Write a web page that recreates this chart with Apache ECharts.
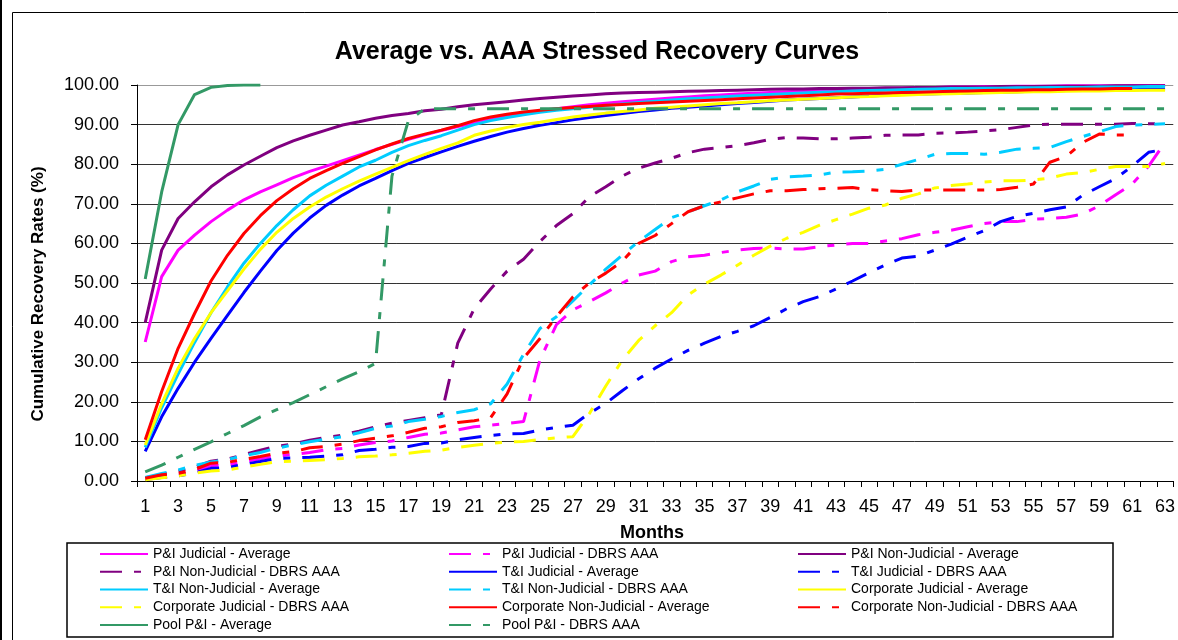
<!DOCTYPE html>
<html>
<head>
<meta charset="utf-8">
<title>Average vs. AAA Stressed Recovery Curves</title>
<script src="https://cdn.jsdelivr.net/npm/echarts@6/dist/echarts.min.js"></script>
<style>
  html, body { margin: 0; padding: 0; background: #fff; }
  #chart { width: 1178px; height: 640px; }
</style>
</head>
<body>
<div id="chart"></div>
<script>
// months on the x axis
const months = [1, 2, 3, 4, 5, 6, 7, 8, 9, 10, 11, 12, 13, 14, 15, 16, 17, 18, 19, 20,
  21, 22, 23, 24, 25, 26, 27, 28, 29, 30, 31, 32, 33, 34, 35, 36, 37, 38, 39, 40,
  41, 42, 43, 44, 45, 46, 47, 48, 49, 50, 51, 52, 53, 54, 55, 56, 57, 58, 59, 60,
  61, 62, 63];

// cumulative recovery rates (%)
const pijAvg = [35.1, 51.6, 58.3, 62.1, 65.5, 68.4, 71.0, 73.0, 74.8, 76.6, 78.2, 79.5, 80.9, 82.3, 83.7, 85.0, 86.3, 87.4, 88.5, 89.5,
  90.4, 91.3, 92.1, 92.8, 93.4, 94.0, 94.5, 95.0, 95.4, 95.8, 96.1, 96.4, 96.7, 97.0, 97.3, 97.5, 97.7, 97.9, 98.1, 98.3,
  98.5, 98.6, 98.8, 98.9, 99.0, 99.1, 99.2, 99.3, 99.4, 99.5, 99.5, 99.6, 99.6, 99.7, 99.7, 99.7, 99.8, 99.8, 99.8, 99.8,
  99.9, 99.9, 99.9];
const pijDbrs = [0.5, 1.1, 1.6, 2.4, 3.9, 4.0, 4.9, 5.6, 6.3, 6.7, 7.2, 7.9, 8.2, 9.1, 9.7, 10.1, 11.0, 11.8, 12.1, 12.9,
  13.7, 14.1, 14.5, 15.0, 30.6, 39.5, 43.2, 45.3, 47.5, 50.0, 52.0, 53.0, 55.4, 56.6, 57.0, 57.7, 58.3, 58.7, 58.8, 58.6,
  58.6, 59.2, 59.6, 60.0, 60.0, 60.6, 61.2, 62.2, 62.8, 63.3, 64.2, 65.0, 65.5, 65.5, 66.1, 66.3, 66.6, 67.4, 69.5, 72.3,
  75.0, 79.5, 85.5];
const pnjAvg = [40.0, 58.3, 66.3, 70.5, 74.3, 77.3, 79.8, 82.0, 84.2, 85.9, 87.3, 88.6, 89.9, 90.7, 91.6, 92.3, 92.8, 93.5, 93.9, 94.5,
  95.0, 95.4, 95.8, 96.2, 96.6, 96.9, 97.2, 97.5, 97.8, 98.0, 98.1, 98.2, 98.3, 98.4, 98.5, 98.6, 98.7, 98.8, 98.9, 99.0,
  99.0, 99.1, 99.1, 99.2, 99.2, 99.3, 99.3, 99.4, 99.4, 99.5, 99.5, 99.5, 99.6, 99.6, 99.6, 99.7, 99.7, 99.7, 99.7, 99.8,
  99.8, 99.8, 99.8];
const pnjDbrs = [0.8, 1.6, 2.5, 3.5, 5.0, 5.5, 6.7, 7.8, 8.8, 9.3, 10.3, 11.0, 11.6, 12.6, 13.7, 14.6, 15.3, 16.0, 16.7, 34.8,
  43.5, 48.5, 53.0, 56.0, 60.5, 64.5, 67.5, 71.8, 74.3, 77.0, 79.0, 80.3, 81.5, 82.9, 83.8, 84.2, 84.7, 85.4, 86.3, 86.7,
  86.6, 86.4, 86.4, 86.6, 86.8, 87.3, 87.4, 87.4, 87.8, 87.9, 88.1, 88.4, 88.7, 89.3, 89.9, 90.1, 90.1, 90.1, 90.1, 90.1,
  90.3, 90.2, 90.2];
const tjAvg = [7.5, 16.2, 23.4, 30.0, 36.0, 41.8, 47.6, 53.0, 58.2, 62.6, 66.4, 69.6, 72.2, 74.5, 76.4, 78.4, 80.2, 81.7, 83.1, 84.5,
  85.8, 87.0, 88.1, 89.0, 89.8, 90.5, 91.2, 91.8, 92.3, 92.8, 93.3, 93.7, 94.1, 94.4, 94.7, 95.0, 95.3, 95.6, 95.9, 96.2,
  96.4, 96.6, 96.8, 97.0, 97.2, 97.4, 97.6, 97.7, 97.8, 97.9, 98.0, 98.1, 98.2, 98.3, 98.4, 98.5, 98.6, 98.6, 98.7, 98.8,
  98.8, 98.9, 98.9];
const tjDbrs = [0.4, 0.9, 1.3, 2.0, 3.2, 3.4, 4.2, 4.9, 5.7, 5.8, 6.0, 6.3, 6.6, 7.7, 8.0, 8.5, 8.7, 9.5, 9.6, 10.4,
  11.0, 11.5, 11.9, 12.0, 12.9, 13.5, 14.1, 17.1, 19.6, 22.8, 25.8, 28.5, 30.8, 33.0, 34.8, 36.5, 37.8, 39.2, 41.3, 43.5,
  45.3, 46.6, 48.5, 50.5, 52.6, 54.6, 56.3, 56.8, 58.3, 59.8, 61.6, 63.2, 65.5, 66.8, 67.6, 68.5, 69.2, 72.2, 74.3, 76.4,
  79.5, 83.0, 83.8];
const tnjAvg = [8.5, 18.5, 27.0, 35.0, 42.5, 49.0, 55.0, 60.0, 64.5, 68.5, 72.0, 74.7, 77.0, 79.3, 81.0, 83.0, 84.7, 86.0, 87.2, 88.6,
  90.0, 91.0, 91.8, 92.5, 93.1, 93.6, 94.0, 94.4, 94.8, 95.2, 95.6, 95.9, 96.2, 96.5, 96.7, 97.0, 97.2, 97.4, 97.6, 97.8,
  98.0, 98.2, 98.3, 98.5, 98.6, 98.7, 98.8, 98.9, 99.0, 99.1, 99.1, 99.2, 99.2, 99.3, 99.3, 99.4, 99.4, 99.4, 99.5, 99.5,
  99.5, 99.6, 99.6];
const tnjDbrs = [0.9, 1.9, 2.8, 3.9, 4.8, 5.4, 6.4, 7.2, 8.3, 9.1, 9.9, 10.6, 11.2, 12.2, 13.3, 13.9, 15.0, 15.6, 16.3, 17.3,
  18.0, 19.5, 24.5, 32.0, 38.5, 41.5, 45.5, 49.5, 53.5, 57.0, 60.5, 63.5, 66.5, 68.0, 69.5, 71.0, 73.0, 74.5, 76.2, 76.8,
  77.0, 77.3, 78.0, 78.1, 78.3, 78.7, 80.0, 81.2, 82.5, 82.7, 82.7, 82.5, 83.0, 83.8, 84.0, 84.2, 85.7, 87.0, 88.2, 89.5,
  89.9, 90.0, 90.2];
const cjAvg = [9.1, 19.5, 28.5, 36.0, 42.5, 48.0, 53.5, 58.5, 62.8, 66.3, 69.2, 71.7, 73.8, 75.7, 77.5, 79.2, 80.9, 82.5, 84.0, 85.4,
  87.3, 88.4, 89.3, 90.0, 90.6, 91.3, 91.9, 92.4, 92.9, 93.3, 93.7, 94.1, 94.4, 94.7, 95.0, 95.3, 95.5, 95.8, 96.0, 96.2,
  96.4, 96.6, 96.8, 97.0, 97.1, 97.3, 97.4, 97.6, 97.7, 97.8, 97.9, 98.0, 98.1, 98.2, 98.3, 98.3, 98.4, 98.5, 98.5, 98.6,
  98.6, 98.7, 98.7];
const cjDbrs = [0.3, 0.8, 1.3, 2.0, 2.5, 2.8, 3.5, 4.2, 4.9, 5.0, 5.2, 5.4, 5.7, 6.1, 6.3, 6.6, 7.0, 7.5, 7.8, 8.5,
  9.0, 9.5, 9.8, 10.0, 10.5, 10.9, 11.2, 17.0, 24.0, 30.5, 35.5, 39.2, 42.5, 47.0, 49.7, 52.0, 54.5, 57.0, 59.3, 61.3,
  62.8, 64.6, 66.0, 67.4, 68.9, 69.7, 71.4, 72.5, 74.0, 74.6, 75.0, 75.5, 75.8, 75.8, 76.0, 76.5, 77.5, 77.9, 78.7, 79.4,
  79.4, 79.4, 80.2];
const cnjAvg = [10.4, 22.6, 33.5, 42.3, 50.5, 57.0, 62.5, 67.0, 70.8, 73.8, 76.4, 78.4, 80.2, 81.9, 83.6, 85.1, 86.5, 87.6, 88.6, 89.7,
  91.0, 91.9, 92.6, 93.2, 93.6, 94.0, 94.3, 94.6, 94.9, 95.1, 95.3, 95.5, 95.7, 95.9, 96.1, 96.3, 96.5, 96.7, 96.9, 97.1,
  97.3, 97.5, 97.7, 97.8, 97.9, 98.0, 98.1, 98.2, 98.3, 98.4, 98.5, 98.6, 98.7, 98.7, 98.8, 98.8, 98.9, 99.0, 99.0, 99.1,
  99.1];
const cnjDbrs = [0.7, 1.6, 1.9, 2.9, 4.5, 4.7, 5.5, 6.2, 7.0, 7.4, 8.4, 8.7, 9.3, 10.2, 10.8, 11.4, 12.3, 13.3, 13.7, 14.8,
  15.2, 16.0, 22.0, 31.0, 36.0, 41.5, 46.5, 50.0, 52.5, 55.5, 60.0, 62.0, 65.0, 68.0, 69.5, 70.5, 71.5, 72.5, 73.3, 73.3,
  73.6, 73.8, 73.9, 74.1, 73.6, 73.3, 73.1, 73.5, 73.5, 73.5, 73.5, 73.5, 73.6, 74.2, 75.0, 80.5, 82.0, 85.5, 87.6, 87.4,
  87.4];
const poolAvg = [51.0, 73.0, 90.0, 97.6, 99.4, 99.9, 100.0, 100.0];
const poolDbrs = [2.3, 4.0, 6.0, 8.0, 9.9, 12.0, 14.0, 16.2, 18.0, 19.8, 21.8, 23.8, 25.8, 27.6, 29.7, 77.0, 91.0, 94.0, 94.0, 94.0,
  94.0, 94.0, 94.0, 94.0, 94.0, 94.0, 94.0, 94.0, 94.0, 94.0, 94.0, 94.0, 94.0, 94.0, 94.0, 94.0, 94.0, 94.0, 94.0, 94.0,
  94.0, 94.0, 94.0, 94.0, 94.0, 94.0, 94.0, 94.0, 94.0, 94.0, 94.0, 94.0, 94.0, 94.0, 94.0, 94.0, 94.0, 94.0, 94.0, 94.0,
  94.0, 94.0, 94.0];

const FONT = 'Arial, "Liberation Sans", sans-serif';
const DASH = [22, 12, 7, 12]; // excel long-dash-dot

// legend order (row by row, three columns)
const lines = [
  { name: 'P&I Judicial - Average', data: pijAvg, color: '#FF00FF', dashed: false },
  { name: 'P&I Judicial - DBRS AAA', data: pijDbrs, color: '#FF00FF', dashed: true },
  { name: 'P&I Non-Judicial - Average', data: pnjAvg, color: '#800080', dashed: false },
  { name: 'P&I Non-Judicial - DBRS AAA', data: pnjDbrs, color: '#800080', dashed: true },
  { name: 'T&I Judicial - Average', data: tjAvg, color: '#0000FF', dashed: false },
  { name: 'T&I Judicial - DBRS AAA', data: tjDbrs, color: '#0000FF', dashed: true },
  { name: 'T&I Non-Judicial - Average', data: tnjAvg, color: '#00CCFF', dashed: false },
  { name: 'T&I Non-Judicial - DBRS AAA', data: tnjDbrs, color: '#00CCFF', dashed: true },
  { name: 'Corporate Judicial - Average', data: cjAvg, color: '#FFFF00', dashed: false },
  { name: 'Corporate Judicial - DBRS AAA', data: cjDbrs, color: '#FFFF00', dashed: true },
  { name: 'Corporate Non-Judicial - Average', data: cnjAvg, color: '#FF0000', dashed: false },
  { name: 'Corporate Non-Judicial - DBRS AAA', data: cnjDbrs, color: '#FF0000', dashed: true },
  { name: 'Pool P&I - Average', data: poolAvg, color: '#339966', dashed: false },
  { name: 'Pool P&I - DBRS AAA', data: poolDbrs, color: '#339966', dashed: true }
];

function legendColumn(left, start) {
  const names = lines.filter((l, i) => i % 3 === start).map(l => l.name);
  return {
    orient: 'vertical',
    left: left,
    top: 545,
    padding: 0,
    itemGap: 0,
    itemWidth: 48,
    itemHeight: 14,
    selectedMode: false,
    itemStyle: { opacity: 0 },
    textStyle: { fontFamily: FONT, fontSize: 14, color: '#000', lineHeight: 17.8 },
    data: names
  };
}

const chart = echarts.init(document.getElementById('chart'), null, { renderer: 'canvas' });

chart.setOption({
  animation: false,
  backgroundColor: '#fff',
  grid: { left: 137, top: 85, width: 1044.5, height: 396 },
  legend: [legendColumn(99, 0), legendColumn(448, 1), legendColumn(797, 2)],
  xAxis: {
    type: 'category',
    data: months,
    boundaryGap: true,
    axisLine: { lineStyle: { color: '#000', width: 1 } },
    axisTick: { show: true, interval: 0, length: 6, lineStyle: { color: '#000' } },
    axisLabel: { interval: 1, margin: 17, color: '#000', fontFamily: FONT, fontSize: 18 },
    splitLine: { show: false }
  },
  yAxis: {
    type: 'value',
    min: 0,
    max: 100,
    interval: 10,
    axisLine: { show: true, lineStyle: { color: '#000', width: 1 } },
    axisTick: { show: true, length: 6, lineStyle: { color: '#000' } },
    axisLabel: {
      margin: 18,
      color: '#000',
      fontFamily: FONT,
      fontSize: 18,
      formatter: v => v.toFixed(2)
    },
    splitLine: {
      show: true,
      lineStyle: {
        color: ['#333', '#333', '#333', '#333', '#333', '#333', '#333', '#333', '#333', '#333', '#999'],
        width: 1
      }
    }
  },
  graphic: [
    { type: 'rect', shape: { x: 0, y: 0, width: 2, height: 640 }, style: { fill: '#000' } },
    { type: 'rect', shape: { x: 12.5, y: 12.5, width: 1200, height: 700 }, style: { fill: null, stroke: '#000', lineWidth: 1 } },
    { type: 'rect', shape: { x: 67, y: 543, width: 1046, height: 94 }, style: { fill: null, stroke: '#000', lineWidth: 1.5 } },
    {
      type: 'text', x: 597, y: 52,
      style: { text: 'Average vs. AAA Stressed Recovery Curves', fill: '#000', font: 'bold 25px ' + FONT, align: 'center', verticalAlign: 'middle' }
    },
    {
      type: 'text', x: 38, y: 294, rotation: Math.PI / 2,
      style: { text: 'Cumulative Recovery Rates (%)', fill: '#000', font: 'bold 17px ' + FONT, align: 'center', verticalAlign: 'middle' }
    },
    {
      type: 'text', x: 652, y: 533,
      style: { text: 'Months', fill: '#000', font: 'bold 18px ' + FONT, align: 'center', verticalAlign: 'middle' }
    }
  ],
  series: lines.map(l => ({
    name: l.name,
    type: 'line',
    data: l.data,
    symbol: 'none',
    smooth: false,
    silent: true,
    color: l.color,
    lineStyle: { color: l.color, width: 3, type: l.dashed ? DASH : 'solid' },
    emphasis: { disabled: true }
  }))
});
</script>
</body>
</html>
